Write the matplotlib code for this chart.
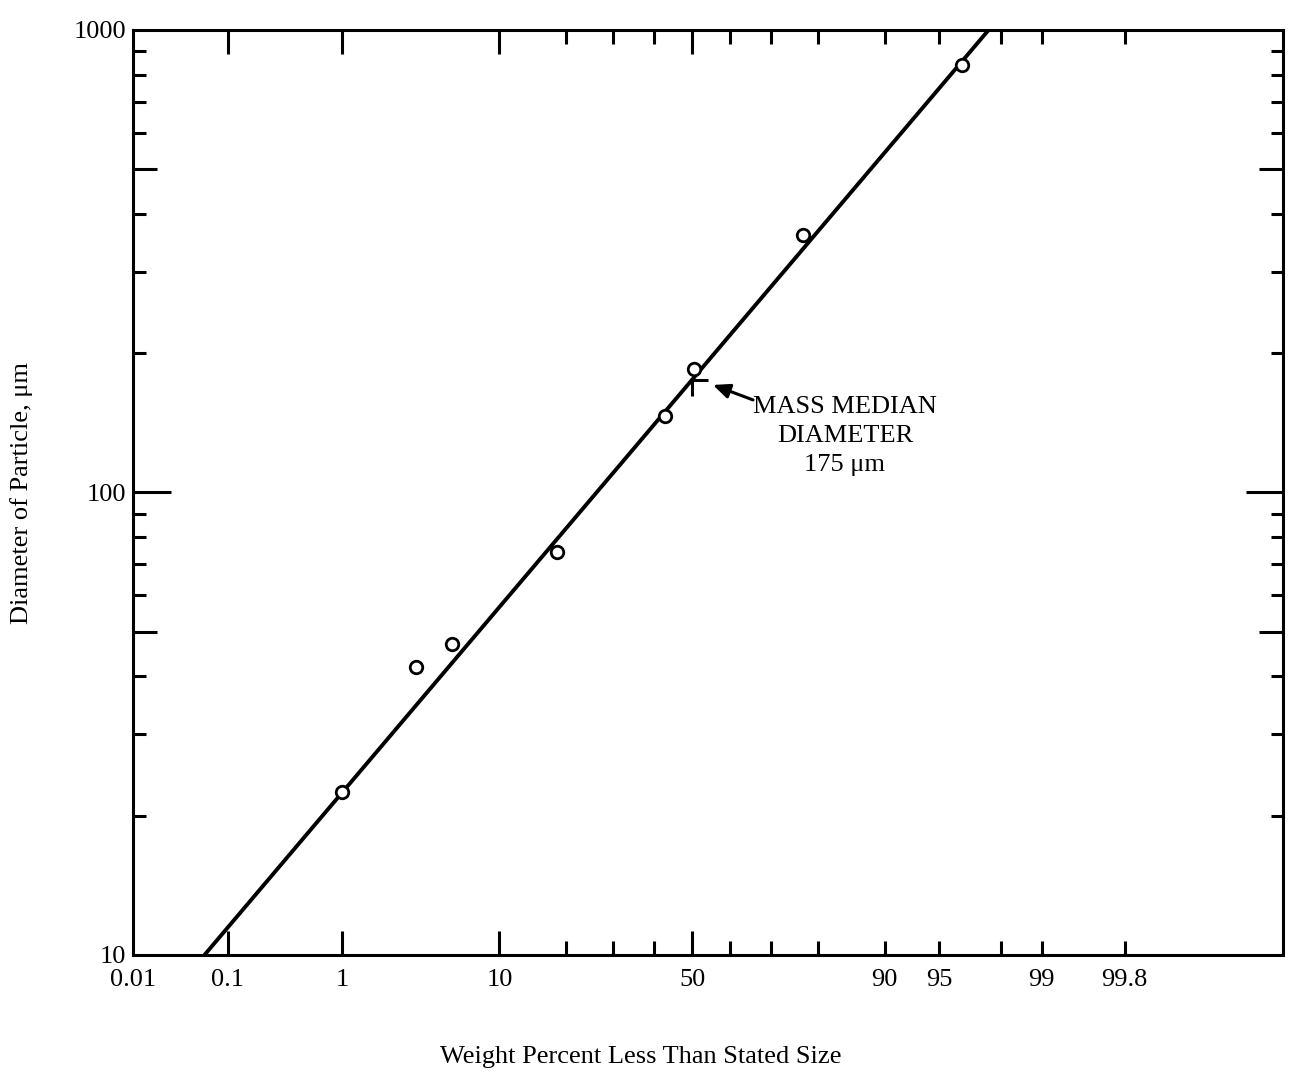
"""Particle size distribution on log-probability axes (mass median diameter)."""

from statistics import NormalDist

import matplotlib

matplotlib.use("Agg")
import matplotlib.pyplot as plt
import numpy as np
from matplotlib.path import Path

# measured points: cumulative weight percent finer vs particle diameter
pct_finer = [1.0, 3.3, 5.5, 18.5, 43.0, 50.5, 77.0, 96.4]
diameter_um = [22.5, 42.0, 47.0, 74.5, 146.0, 185.0, 360.0, 840.0]

# fitted log-normal line, drawn edge to edge of the plot
fit_pct = [0.059, 97.58]
fit_diameter = [10.0, 1000.0]

median_pct = 50.0
median_diameter = 175.0

x_major = [0.01, 0.1, 1, 10, 50, 90, 95, 99, 99.8]
x_major_labels = ["0.01", "0.1", "1", "10", "50", "90", "95", "99", "99.8"]
x_long = [0.1, 1, 10, 50]
x_minor = [20, 30, 40, 60, 70, 80, 98]

y_major = [10, 50, 100, 500, 1000]
y_major_labels = ["10", "", "100", "", "1000"]
y_minor = [20, 30, 40, 60, 70, 80, 90, 200, 300, 400, 600, 700, 800, 900]

FONT = ["Liberation Serif", "DejaVu Serif"]
_norm = NormalDist()


def prob_to_z(p):
    p = np.clip(np.asarray(p, dtype=float), 1e-7, 100 - 1e-7)
    return np.vectorize(lambda v: _norm.inv_cdf(v / 100.0), otypes=[float])(p)


def z_to_prob(z):
    z = np.asarray(z, dtype=float)
    return np.vectorize(lambda v: 100.0 * _norm.cdf(v), otypes=[float])(z)


plt.rcParams["font.family"] = FONT

fig = plt.figure(figsize=(12.98, 10.76), dpi=100)
ax = fig.add_axes([0.1025, 0.1125, 0.886, 0.8597])

ax.set_xscale("function", functions=(prob_to_z, z_to_prob))
ax.set_yscale("log")
ax.set_xlim(0.01, 99.9958)
ax.set_ylim(10, 1000)

ax.plot(fit_pct, fit_diameter, color="black", lw=2.8, solid_capstyle="butt", zorder=2)
ax.plot(pct_finer, diameter_um, "o", ms=9, mfc="white", mec="black", mew=2.0, zorder=3)

# corner mark on the line at the median
corner = Path([(1, 0), (0, 0), (0, -1)], [Path.MOVETO, Path.LINETO, Path.LINETO])
ax.plot([median_pct], [median_diameter], marker=corner, ms=23, mfc="none",
        mec="black", mew=2.2, ls="none", zorder=4)

ax.annotate("", xy=(0.5043, 0.6162), xycoords="axes fraction",
            xytext=(0.5391, 0.600), textcoords="axes fraction",
            arrowprops=dict(arrowstyle="-|>,head_length=0.5,head_width=0.22",
                            mutation_scale=20, lw=2.2, color="black",
                            shrinkA=0, shrinkB=0))
ax.text(0.619, 0.561, "MASS MEDIAN\nDIAMETER\n175 μm", transform=ax.transAxes,
        ha="center", va="center", fontsize=19, linespacing=1.4)

ax.set_xticks(x_major, x_major_labels)
ax.set_xticks(x_minor, minor=True)
ax.set_yticks(y_major, y_major_labels)
ax.set_yticks(y_minor, minor=True)
ax.yaxis.set_minor_formatter(plt.NullFormatter())
ax.xaxis.set_minor_formatter(plt.NullFormatter())

ax.tick_params(which="both", direction="in", top=True, right=True, width=2.2,
               labelsize=19, color="black")
ax.tick_params(axis="x", which="both", pad=10)
ax.tick_params(axis="y", which="both", pad=5)
ax.tick_params(axis="x", which="minor", length=10)
ax.tick_params(axis="y", which="minor", length=9)

for spine in ax.spines.values():
    spine.set_linewidth(2.2)

fig.text(641 / 1298, 1 - 1057 / 1076, "Weight Percent Less Than Stated Size",
         ha="center", va="center", fontsize=19)
fig.text(22 / 1298, 1 - 493 / 1076, "Diameter of Particle, μm",
         ha="center", va="center", rotation=90, fontsize=19)

# individual tick lengths, as printed on the probability paper
for tick, val in zip(ax.xaxis.get_major_ticks(), x_major):
    size = 17 if val in x_long else (0 if val == 0.01 else 10)
    tick.tick1line.set_markersize(size)
    tick.tick2line.set_markersize(size)
for tick, val in zip(ax.yaxis.get_major_ticks(), y_major):
    size = {10: 0, 50: 17, 100: 27, 500: 17, 1000: 0}[val]
    tick.tick1line.set_markersize(size)
    tick.tick2line.set_markersize(size)

fig.savefig("out.png", dpi=100)
